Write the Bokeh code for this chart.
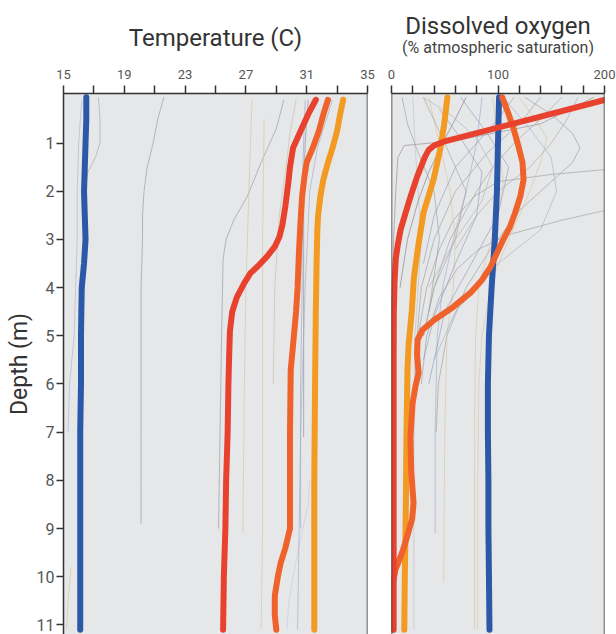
from bokeh.plotting import figure
from bokeh.models import Range1d, FixedTicker, Title, Span
from bokeh.layouts import row
from bokeh.embed import file_html
from bokeh.resources import INLINE

FONT = "Roboto"
BG = "#e6e7e9"
C_BLUE = "#2b58a8"
C_RED = "#e8412e"
C_ORED = "#ef622b"
C_ORANGE = "#f39a22"

# ---------------- Temperature (thick) ----------------
t_blue_depth = [0.05, 0.5, 1, 1.5, 2, 2.5, 3, 3.5, 4, 5, 6, 7, 8, 9, 10, 11.1]
t_blue_val = [16.5, 16.5, 16.45, 16.4, 16.35, 16.4, 16.45, 16.35, 16.2, 16.15, 16.15, 16.1, 16.1, 16.1, 16.1, 16.1]

t_red_depth = [0.1, 0.4, 0.75, 1.1, 1.5, 1.8, 2.3, 2.7, 2.95, 3.15, 3.35, 3.55, 3.7, 3.9, 4.2, 4.5, 4.9, 5.4, 6, 7, 8, 9, 10, 11.1]
t_red_val = [31.6, 31.1, 30.6, 30.1, 29.9, 29.8, 29.6, 29.4, 29.2, 28.9, 28.4, 27.8, 27.3, 26.9, 26.4, 26.1, 25.95, 25.9, 25.85, 25.8, 25.7, 25.65, 25.55, 25.5]

t_ored_depth = [0.1, 0.4, 0.75, 1.1, 1.4, 1.7, 2.1, 2.6, 3.2, 4.0, 4.5, 5.2, 5.7, 7.0, 8.0, 9.0, 9.4, 9.7, 10.0, 10.4, 10.8, 11.1]
t_ored_val = [32.4, 32.1, 31.8, 31.4, 31.0, 30.85, 30.7, 30.6, 30.5, 30.4, 30.3, 30.1, 29.95, 29.9, 29.9, 29.9, 29.6, 29.3, 29.1, 28.9, 28.9, 29.0]

t_orange_depth = [0.1, 0.4, 0.75, 1.1, 1.4, 1.75, 2.1, 2.5, 2.8, 3.5, 4.5, 6, 8, 10, 11.1]
t_orange_val = [33.4, 33.2, 33.0, 32.7, 32.4, 32.1, 31.9, 31.75, 31.7, 31.65, 31.6, 31.55, 31.5, 31.5, 31.5]

# ---------------- Temperature (thin background profiles) ----------------
thin_t_depth = [
    [0.05, 0.5, 1, 1.5, 2, 2.5, 3, 4, 5, 6, 7, 8, 8.9],
    [0.05, 0.5, 1, 1.3, 1.6, 2.0, 3, 4],
    [0.1, 1, 2, 3, 4, 5, 6, 7],
    [9.8, 10.5, 11.1],
    [0.1, 0.7, 1.4, 2.1, 2.6, 3.0, 3.4, 5, 7, 9],
    [0.1, 2, 4, 6, 9.1],
    [0.5, 3, 6, 9, 11.1],
    [0.1, 1, 2, 4, 6, 8, 9],
    [0.1, 1, 2, 4, 6, 7.1],
    [8.0, 8.5, 9.2, 10, 10.6, 11.1],
    [0.1, 0.6, 1.1, 2, 4, 7, 11.1],
    [0.1, 0.8, 1.6, 2.5, 4, 6],
]
thin_t_val = [
    [21.6, 21.2, 20.9, 20.5, 20.3, 20.2, 20.2, 20.1, 20.1, 20.1, 20.1, 20.1, 20.1],
    [17.3, 17.4, 17.4, 17.1, 16.6, 16.4, 16.3, 16.2],
    [16.2, 16.0, 15.9, 15.9, 15.8, 15.7, 15.4, 15.3],
    [15.5, 15.3, 15.2],
    [29.5, 29.0, 28.0, 27.1, 26.2, 25.7, 25.5, 25.4, 25.3, 25.2],
    [27.4, 27.2, 27.0, 26.9, 26.8],
    [28.2, 28.1, 28.1, 28.1, 28.0],
    [30.9, 30.8, 30.7, 30.7, 30.6, 30.6, 30.6],
    [31.1, 30.9, 30.8, 30.8, 30.8, 30.8],
    [31.2, 31.1, 30.6, 30.1, 29.8, 29.7],
    [32.7, 32.2, 31.7, 31.2, 30.9, 30.6, 30.4],
    [30.3, 29.9, 29.6, 29.2, 28.9, 28.8],
]
thin_t_color = ["#9a9a9a", "#a8a8a8", "#b0b4c4", "#d6c69c", "#9a9a9a", "#d6c69c",
                "#d6c69c", "#9aa6c8", "#8e8e8e", "#c4cce0", "#a4aec8", "#c9c0a8"]

# ---------------- Dissolved oxygen (thick) ----------------
o_blue_depth = [0.05, 1, 2, 3, 4, 5, 6, 7, 8, 9, 10, 11.1]
o_blue_val = [101, 100, 99, 97, 94, 91.5, 90.5, 90.5, 91, 91, 91.5, 92]

o_red_depth = [0.1, 0.5, 0.97, 1.05, 1.14, 1.28, 1.42, 1.7, 2.1, 2.5, 2.8, 3.1, 3.4, 3.9, 4.5, 5.5, 7, 9, 11.1]
o_red_val = [201, 131, 49, 40, 35, 31.5, 29, 24, 18, 12.5, 8.5, 6, 4, 2.8, 2.2, 2, 2, 2, 2]

o_ored_depth = [0.05, 0.4, 0.73, 1.05, 1.4, 1.76, 2.1, 2.45, 2.75, 3.0, 3.28, 3.57, 3.84, 4.11, 4.4, 4.67, 4.88, 5.08, 5.4, 5.77, 6.05, 6.4, 7.1, 7.8, 8.47, 8.8, 9.17, 9.5, 9.85, 10.2, 10.55, 11.1]
o_ored_val = [104, 110, 115, 119, 123, 124, 121, 116, 111, 105, 99, 93, 85, 74, 58, 40, 29, 24.5, 24, 25.5, 22.5, 19.8, 17.8, 18.5, 20.7, 19.4, 14.7, 10, 3.8, 0.8, 0.3, 1]

o_orange_depth = [0.05, 0.6, 1.1, 1.76, 2.45, 3.15, 3.8, 4.5, 5.2, 5.7, 7.1, 8.5, 10, 11.1]
o_orange_val = [52.5, 49.5, 46, 39.5, 30, 25, 21, 19, 16, 15, 14, 13.5, 12.5, 12]

# ---------------- Dissolved oxygen (thin background profiles) ----------------
thin_o_depth = [
    [0.05, 0.6, 0.95, 1.05, 1.3, 2, 3, 4.2],
    [1.55, 1.65, 1.8, 2.1, 2.6, 3.2, 4, 5, 6],
    [2.4, 2.6, 2.9, 3.2, 3.6, 4.2, 5, 6],
    [0.05, 0.4, 0.8, 1.1, 1.4, 1.8, 2.4, 3.2, 4, 5, 6, 7],
    [0.05, 0.5, 0.9, 1.4, 2.1, 3, 3.8, 5, 6, 8, 11.1],
    [0.05, 0.5, 1, 1.5, 2, 3, 4, 5],
    [0.05, 1, 2, 3, 4, 5, 6, 7, 9.1],
    [0.05, 1, 2, 3, 4, 5, 7, 10.1],
    [0.05, 1, 2, 3, 4, 5, 7, 11.1],
    [0.05, 0.8, 1.5, 2.5, 3.5, 4.5, 6],
    [0.05, 0.6, 1.2, 2, 3, 4, 5],
    [0.05, 1, 1.8, 2.5, 3.3, 4, 5, 7, 11.1],
    [0.05, 0.5, 1, 1.6, 2.2, 3, 4],
    [0.05, 0.7, 1.3, 2, 2.8, 3.5, 4.5, 5.5],
    [0.3, 0.9, 1.6, 2.5, 3.5, 4.6, 5.5],
    [0.05, 0.4, 0.9, 1.5, 2.2, 3, 4],
    [0.05, 1, 2, 3, 4, 5],
    [0.05, 0.5, 1, 1.5, 2.5, 3.5],
    [0.05, 0.5, 1.0, 1.5, 2.0, 2.5, 3.2],
    [0.05, 0.6, 1.2, 2, 3, 4.5],
]
thin_o_val = [
    [190, 140, 60, 12, 6, 4, 2, 1],
    [200, 150, 100, 78, 58, 45, 33, 25, 22],
    [200, 160, 110, 82, 62, 45, 33, 28],
    [125, 150, 170, 177, 170, 150, 120, 93, 70, 52, 44, 42],
    [120, 135, 146, 140, 128, 110, 95, 85, 82, 81, 81],
    [160, 140, 115, 95, 80, 55, 40, 30],
    [85, 80, 70, 58, 48, 43, 42, 41, 41],
    [35, 45, 55, 60, 58, 52, 50, 49],
    [20, 22, 25, 28, 25, 22, 21, 21],
    [65, 90, 110, 100, 75, 50, 35],
    [140, 120, 90, 60, 40, 28, 24],
    [95, 100, 105, 100, 90, 82, 79, 78, 78],
    [70, 60, 48, 35, 25, 15, 8],
    [105, 130, 150, 155, 140, 100, 60, 40],
    [45, 65, 85, 80, 60, 40, 30],
    [30, 55, 80, 95, 85, 60, 35],
    [30, 50, 70, 60, 40, 30],
    [115, 100, 80, 60, 40, 30],
    [175, 165, 150, 130, 100, 80, 60],
    [10, 15, 25, 40, 45, 35],
]
thin_o_color = ["#8a8a8a", "#9a9a9a", "#9a9a9a", "#9a9a9a", "#d6c69c", "#a0a0a0",
                "#9aa6c8", "#d6c69c", "#c0c0c0", "#8e98b8", "#9a9a9a", "#d6c69c",
                "#7a7a7a", "#a4aec8", "#8e98b8", "#b0b0b0", "#a0a0a0", "#8e98b8",
                "#a8a8a8", "#9a9a9a"]

temp_major = [15, 19, 23, 27, 31, 35]
temp_minor = [17, 21, 25, 29, 33]
do_major = [0, 100, 200]
do_minor = [20, 40, 60, 80, 120, 140, 160, 180]
depth_ticks = [1, 2, 3, 4, 5, 6, 7, 8, 9, 10, 11]

Y_RANGE = (11.2, -0.03)


def style_top_axis(ax, major, minor):
    ax.ticker = FixedTicker(ticks=major, minor_ticks=minor)
    ax.axis_line_color = "#333333"
    ax.axis_line_width = 1.5
    ax.major_tick_line_color = "#333333"
    ax.minor_tick_line_color = "#333333"
    ax.major_tick_line_width = 1.5
    ax.minor_tick_line_width = 1.5
    ax.major_tick_out = 8
    ax.major_tick_in = 0
    ax.minor_tick_out = 8
    ax.minor_tick_in = 0
    ax.major_label_text_font = FONT
    ax.major_label_text_font_size = "13px"
    ax.major_label_text_color = "#555555"
    ax.major_label_standoff = 7


left = figure(frame_width=304, frame_height=541, x_range=Range1d(15, 35),
              y_range=Range1d(*Y_RANGE), x_axis_location="above",
              toolbar_location=None, output_backend="svg",
              min_border_left=63, min_border_right=12, min_border_top=93,
              min_border_bottom=0, background_fill_color=BG,
              border_fill_color="white", outline_line_color=None)
left.grid.visible = False
style_top_axis(left.xaxis[0], temp_major, temp_minor)
ya = left.yaxis[0]
ya.ticker = FixedTicker(ticks=depth_ticks)
ya.minor_tick_line_color = None
ya.axis_line_color = "#333333"
ya.axis_line_width = 1.5
ya.major_tick_line_color = "#333333"
ya.major_tick_line_width = 1.5
ya.major_tick_out = 7
ya.major_tick_in = 0
ya.major_label_text_font = FONT
ya.major_label_text_font_size = "16px"
ya.major_label_text_color = "#555555"
ya.major_label_standoff = 2
ya.axis_label = "Depth (m)"
ya.axis_label_text_font = FONT
ya.axis_label_text_font_size = "23px"
ya.axis_label_text_font_style = "normal"
ya.axis_label_text_color = "#333333"
ya.axis_label_standoff = 1
left.add_layout(Span(location=35, dimension="height", line_color="#333333", line_width=1.5))

for d, v, c in zip(thin_t_depth, thin_t_val, thin_t_color):
    left.line(v, d, line_color=c, line_width=1, line_alpha=0.65)
for d, v, c in [(t_blue_depth, t_blue_val, C_BLUE), (t_orange_depth, t_orange_val, C_ORANGE),
                (t_ored_depth, t_ored_val, C_ORED), (t_red_depth, t_red_val, C_RED)]:
    left.line(v, d, line_color=c, line_width=6, line_cap="round", line_join="round")

left.add_layout(Title(text="Temperature (C)", align="center", text_font=FONT,
                      text_font_size="24px", text_font_style="normal",
                      text_color="#333333", standoff=29), "above")

right = figure(frame_width=213, frame_height=541, x_range=Range1d(0, 200),
               y_range=Range1d(*Y_RANGE), x_axis_location="above",
               y_axis_location=None, toolbar_location=None, output_backend="svg",
               min_border_left=12, min_border_right=12, min_border_top=93,
               min_border_bottom=0, background_fill_color=BG,
               border_fill_color="white", outline_line_color=None)
right.grid.visible = False
style_top_axis(right.xaxis[0], do_major, do_minor)
right.add_layout(Span(location=0, dimension="height", line_color="#333333", line_width=1.5))
right.add_layout(Span(location=200, dimension="height", line_color="#333333", line_width=1.5))

for d, v, c in zip(thin_o_depth, thin_o_val, thin_o_color):
    right.line(v, d, line_color=c, line_width=1, line_alpha=0.6)
for d, v, c in [(o_orange_depth, o_orange_val, C_ORANGE), (o_blue_depth, o_blue_val, C_BLUE),
                (o_ored_depth, o_ored_val, C_ORED), (o_red_depth, o_red_val, C_RED)]:
    right.line(v, d, line_color=c, line_width=6, line_cap="round", line_join="round")

right.add_layout(Title(text="(% atmospheric saturation)", align="center", text_font=FONT,
                       text_font_size="16px", text_font_style="normal",
                       text_color="#444444", standoff=19), "above")
right.add_layout(Title(text="Dissolved oxygen", align="center", text_font=FONT,
                       text_font_size="24px", text_font_style="normal",
                       text_color="#333333", standoff=-26), "above")

layout = row(left, right)
open("out.html", "w").write(file_html(layout, INLINE))
